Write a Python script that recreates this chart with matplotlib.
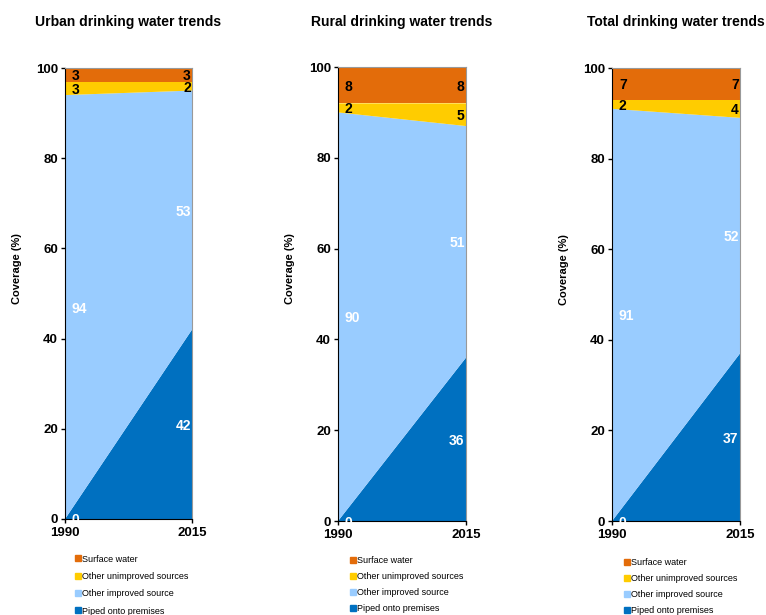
import matplotlib.pyplot as plt
from matplotlib.lines import Line2D

plt.rcParams['font.family'] = ['Liberation Sans', 'DejaVu Sans']

years = [1990, 2015]
categories = ['Piped onto premises', 'Other improved source',
              'Other unimproved sources', 'Surface water']
colors = ['#0070C0', '#99CCFF', '#FFCC00', '#E36C0A']

titles = ['Urban drinking water trends', 'Rural drinking water trends',
          'Total drinking water trends']

# values per category: [1990, 2015]
urban_piped = [0, 42]
urban_improved = [94, 53]
urban_unimproved = [3, 2]
urban_surface = [3, 3]

rural_piped = [0, 36]
rural_improved = [90, 51]
rural_unimproved = [2, 5]
rural_surface = [8, 8]

total_piped = [0, 37]
total_improved = [91, 52]
total_unimproved = [2, 4]
total_surface = [7, 7]

panels = [
    [urban_piped, urban_improved, urban_unimproved, urban_surface],
    [rural_piped, rural_improved, rural_unimproved, rural_surface],
    [total_piped, total_improved, total_unimproved, total_surface],
]

label_colors = ['white', 'white', 'black', 'black']

fig = plt.figure(figsize=(7.66, 6.15), dpi=100)

boxes = [
    [0.0849, 0.1561, 0.1658, 0.7333],
    [0.4413, 0.1528, 0.1671, 0.7382],
    [0.7990, 0.1528, 0.1671, 0.7366],
]
# legend placement under each panel (axes fraction) and row spacing
legend_anchor = [(0.08, -0.079), (0.093, -0.077), (0.093, -0.081)]
legend_spacing = [0.92, 0.78, 0.78]

for box, title, series, anchor, spacing in zip(boxes, titles, panels,
                                              legend_anchor, legend_spacing):
    ax = fig.add_axes(box)
    ax.stackplot(years, *series, colors=colors, linewidth=0)
    ax.set_xlim(1990, 2015)
    ax.set_ylim(0, 100)
    ax.set_xticks(years)
    ax.set_yticks(range(0, 101, 20))
    ax.tick_params(axis='both', labelsize=9.5, length=3, width=1, direction='out')
    for lab in ax.get_xticklabels() + ax.get_yticklabels():
        lab.set_fontweight('bold')
    ax.tick_params(axis='x', pad=3)
    ax.tick_params(axis='y', pad=2)
    ax.spines['left'].set_color('black')
    ax.spines['bottom'].set_color('black')
    ax.spines['top'].set_color('#999999')
    ax.spines['right'].set_color('#999999')
    ax.set_ylabel('Coverage (%)', fontsize=8, fontweight='bold')
    ax.yaxis.set_label_coords(-0.34, 0.556)

    cx = box[0] + box[2] / 2
    fig.text(cx, 0.965, title, ha='center', va='center',
             fontsize=10, fontweight='bold')

    # value labels at the middle of each band
    for i, yr in enumerate(years):
        base = 0
        for vals, tc in zip(series, label_colors):
            v = vals[i]
            mid = base + v / 2
            base += v
            if i == 0:
                ax.annotate(str(v), (yr, mid), xytext=(5, 0),
                            textcoords='offset points', ha='left',
                            va='center_baseline',
                            fontsize=10, fontweight='bold', color=tc)
            else:
                ax.annotate(str(v), (yr, mid), xytext=(-1, 0),
                            textcoords='offset points', ha='right',
                            va='center_baseline',
                            fontsize=10, fontweight='bold', color=tc)

    handles = [Line2D([], [], marker='s', linestyle='none', markersize=5,
                      markerfacecolor=c, markeredgecolor=c)
               for c in reversed(colors)]
    ax.legend(handles, list(reversed(categories)), loc='upper left',
              bbox_to_anchor=anchor, frameon=False, fontsize=6.5,
              handlelength=0.6, handletextpad=0.2, labelspacing=spacing,
              borderaxespad=0, borderpad=0)

fig.savefig('out.png', dpi=100)
